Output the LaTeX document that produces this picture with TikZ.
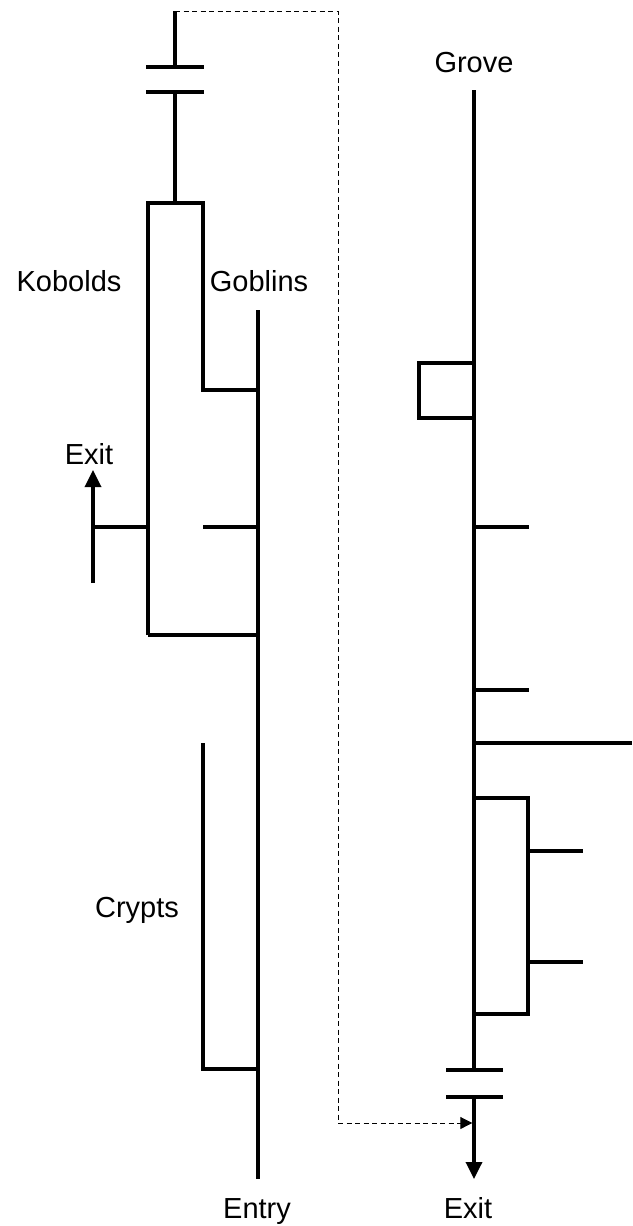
\documentclass[tikz,border=0pt]{standalone}
\usepackage{fontspec}
\setmainfont{Liberation Sans}
\usetikzlibrary{arrows.meta}
\begin{document}
\begin{tikzpicture}[x=1pt,y=-1pt,
  wall/.style={line width=3.4pt},
  link/.style={line width=1pt, dash pattern=on 5pt off 3.5pt},
  bigtip/.style={-{Triangle[length=17pt,width=16pt]}},
  smalltip/.style={-{Triangle[length=12pt,width=12pt]}},
  lbl/.style={font=\fontsize{29}{32}\selectfont, inner sep=0pt, anchor=base}]
\useasboundingbox (0,0) rectangle (632,1226);
% ---------- left complex ----------
\coordinate (ltop) at (175,11);
\coordinate (lg1l) at (146,67);  \coordinate (lg1r) at (204,67);  \coordinate (lg1c) at (175,67);
\coordinate (lg2l) at (146,92);  \coordinate (lg2r) at (204,92);  \coordinate (lg2c) at (175,92);
\coordinate (kbtl) at (148,203); \coordinate (kbtm) at (175,203); \coordinate (kbtr) at (203,203);
\coordinate (kbr) at (203,390);  \coordinate (gj1) at (258,390);
\coordinate (kmid) at (203,527); \coordinate (gj2) at (258,527);
\coordinate (kbl) at (148,635);  \coordinate (gj3) at (258,635);
\coordinate (kex) at (148,527);  \coordinate (exm) at (93,527);
\coordinate (exb) at (93,583);   \coordinate (ext) at (93,470);
\coordinate (gtop) at (258,310); \coordinate (gbot) at (258,1179);
\coordinate (ctop) at (203,743); \coordinate (cbot) at (203,1069); \coordinate (gj4) at (258,1069);
% ---------- right complex ----------
\coordinate (rtop) at (474,90);
\coordinate (rg1c) at (474,1070); \coordinate (rg1l) at (446,1070); \coordinate (rg1r) at (503,1070);
\coordinate (rg2c) at (474,1097); \coordinate (rg2l) at (446,1097); \coordinate (rg2r) at (503,1097);
\coordinate (rbot) at (474,1179);
\coordinate (sq1) at (474,363); \coordinate (sq2) at (419,363); \coordinate (sq3) at (419,418); \coordinate (sq4) at (474,418);
\coordinate (rb1) at (474,527); \coordinate (rb1e) at (529,527);
\coordinate (rb2) at (474,690); \coordinate (rb2e) at (529,690);
\coordinate (rb3) at (474,743); \coordinate (rb3e) at (632,743);
\coordinate (bx1) at (474,798); \coordinate (bx2) at (528,798); \coordinate (bx3) at (528,1014); \coordinate (bx4) at (474,1014);
\coordinate (bb1) at (528,851); \coordinate (bb1e) at (583,851);
\coordinate (bb2) at (528,962); \coordinate (bb2e) at (583,962);
\coordinate (dr1) at (338,11); \coordinate (dr2) at (338,1123); \coordinate (dend) at (472.3,1123);
% ---------- draw left ----------
\draw[wall] (ltop) -- (lg1c);
\draw[wall] (lg1l) -- (lg1r);
\draw[wall] (lg2l) -- (lg2r);
\draw[wall] (lg2c) -- (kbtm);
\draw[wall] (kbl) -- (kbtl) -- (kbtr) -- (kbr) -- (gj1);
\draw[wall] (kmid) -- (gj2);
\draw[wall] (kbl) -- (gj3);
\draw[wall] (kex) -- (exm);
\draw[wall,bigtip] (exb) -- (ext);
\draw[wall] (gtop) -- (gbot);
\draw[wall] (ctop) -- (cbot) -- (gj4);
% ---------- draw right ----------
\draw[wall] (rtop) -- (rg1c);
\draw[wall] (rg1l) -- (rg1r);
\draw[wall] (rg2l) -- (rg2r);
\draw[wall,bigtip] (rg2c) -- (rbot);
\draw[wall] (sq1) -- (sq2) -- (sq3) -- (sq4);
\draw[wall] (rb1) -- (rb1e);
\draw[wall] (rb2) -- (rb2e);
\draw[wall] (rb3) -- (rb3e);
\draw[wall] (bx1) -- (bx2) -- (bx3) -- (bx4);
\draw[wall] (bb1) -- (bb1e);
\draw[wall] (bb2) -- (bb2e);
% ---------- dashed link ----------
\draw[link,smalltip] (ltop) -- (dr1) -- (dr2) -- (dend);
% ---------- labels ----------
\node[lbl] (kobolds) at (69,291) {Kobolds};
\node[lbl] (goblins) at (259,291) {Goblins};
\node[lbl] (exitl) at (89,464) {Exit};
\node[lbl] (crypts) at (137,917) {Crypts};
\node[lbl] (entry) at (257,1218) {Entry};
\node[lbl] (grove) at (474,72) {Grove};
\node[lbl] (exitr) at (468,1218) {Exit};
\end{tikzpicture}
\end{document}
